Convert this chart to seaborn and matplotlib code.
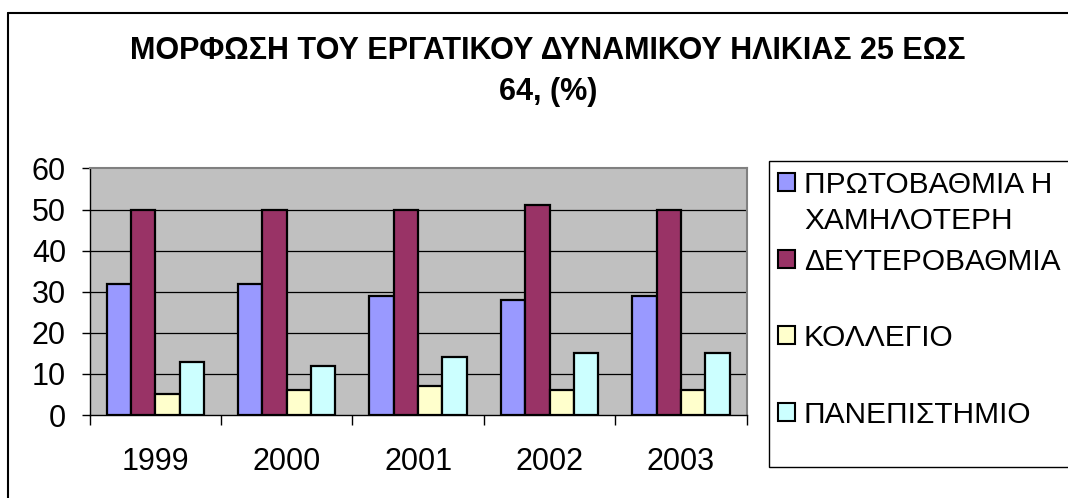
import pandas as pd
import seaborn as sns
import matplotlib.pyplot as plt
from matplotlib.lines import Line2D
from matplotlib.patches import Rectangle

YEARS = ["1999", "2000", "2001", "2002", "2003"]
LEVELS = ["ΠΡΩΤΟΒΑΘΜΙΑ Η ΧΑΜΗΛΟΤΕΡΗ", "ΔΕΥΤΕΡΟΒΑΘΜΙΑ", "ΚΟΛΛΕΓΙΟ", "ΠΑΝΕΠΙΣΤΗΜΙΟ"]
LEGEND_LINES = [["ΠΡΩΤΟΒΑΘΜΙΑ Η", "ΧΑΜΗΛΟΤΕΡΗ"], ["ΔΕΥΤΕΡΟΒΑΘΜΙΑ"], ["ΚΟΛΛΕΓΙΟ"], ["ΠΑΝΕΠΙΣΤΗΜΙΟ"]]
PRIMARY = [32, 32, 29, 28, 29]
SECONDARY = [50, 50, 50, 51, 50]
COLLEGE = [5, 6, 7, 6, 6]
UNIVERSITY = [13, 12, 14, 15, 15]
COLORS = ["#9999FF", "#993366", "#FFFFCC", "#CCFFFF"]
TITLE_LINES = ["ΜΟΡΦΩΣΗ ΤΟΥ ΕΡΓΑΤΙΚΟΥ ΔΥΝΑΜΙΚΟΥ ΗΛΙΚΙΑΣ 25 ΕΩΣ", "64, (%)"]

W, H = 1068, 498

def fx(px):
    return px / W

def fy(py):
    # pixel rows are counted from the top
    return 1 - py / H

sns.set_style("white")
plt.rcParams['font.family'] = ['Liberation Sans', 'DejaVu Sans']
plt.rcParams['text.color'] = 'black'
plt.rcParams['xtick.color'] = 'black'
plt.rcParams['ytick.color'] = 'black'

df = pd.DataFrame({
    'year': YEARS * 4,
    'level': sum([[lv] * len(YEARS) for lv in LEVELS], []),
    'value': PRIMARY + SECONDARY + COLLEGE + UNIVERSITY,
})

fig = plt.figure(figsize=(W / 100, H / 100), dpi=100)
ax = fig.add_axes([fx(89.5), fy(415), fx(746.7) - fx(89.5), fy(168.5) - fy(415)])
ax.set_facecolor("#C0C0C0")

sns.barplot(data=df, x='year', y='value', hue='level', hue_order=LEVELS,
            palette=COLORS, saturation=1, width=0.74, gap=0, edgecolor='black',
            linewidth=1.6, legend=False, ax=ax, zorder=3)

ax.set_ylim(0, 60)
ax.set_xlim(-0.5, len(YEARS) - 0.5)
ax.set_yticks(range(0, 61, 10))
ax.set_xlabel("")
ax.set_ylabel("")
for v in range(10, 60, 10):
    ax.axhline(v, color='black', lw=0.9, zorder=1)

ax.tick_params(axis='y', direction='out', length=6, width=1, color='black',
               labelcolor='black', labelsize=22, pad=11, left=True)
ax.set_xticks([i - 0.5 for i in range(len(YEARS) + 1)], minor=True)
ax.tick_params(axis='x', which='minor', direction='out', length=7, width=1,
               color='black', bottom=True)
ax.tick_params(axis='x', which='major', length=0, labelsize=22, pad=23,
               labelcolor='black')

for side in ['top', 'right']:
    ax.spines[side].set_color('#808080')
    ax.spines[side].set_linewidth(1.5)
for side in ['left', 'bottom']:
    ax.spines[side].set_color('black')
    ax.spines[side].set_linewidth(1)

for j, line in enumerate(TITLE_LINES):
    fig.text(fx(548), fy(59 + j * 41), line, ha='center', va='baseline',
             fontsize=22, fontweight='bold', color='black')

# outer chart border (only top and left are inside the picture)
fig.add_artist(Line2D([fx(8), 1.0], [fy(13), fy(13)], color='black', lw=1.5))
fig.add_artist(Line2D([fx(8), fx(8)], [fy(13), 0.0], color='black', lw=1.5))

# legend box, cut off at the right edge like the reference
fig.add_artist(Rectangle((fx(769), fy(467)), 1.2, fy(161) - fy(467),
                         transform=fig.transFigure, facecolor='white',
                         edgecolor='black', lw=1))
for i, (lines, color) in enumerate(zip(LEGEND_LINES, COLORS)):
    cap_top = 173 + i * 76.7
    fig.add_artist(Rectangle((fx(778), fy(cap_top + 18)), fx(795) - fx(778), fy(cap_top) - fy(cap_top + 18),
                             transform=fig.transFigure, facecolor=color,
                             edgecolor='black', lw=1.5))
    for j, line in enumerate(lines):
        fig.text(fx(804), fy(cap_top + 20 + j * 36), line, ha='left', va='baseline',
                 fontsize=21.5, color='black')

fig.savefig("out.png", dpi=100)
